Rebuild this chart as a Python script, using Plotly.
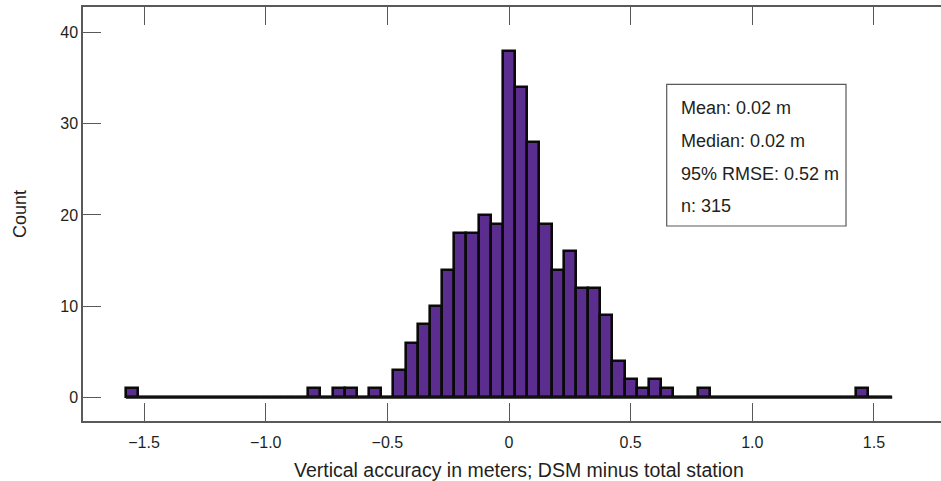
import plotly.graph_objects as go

# Histogram of vertical differences (DSM minus total station), 0.05 m bins
bin_start = -1.575
bin_width = 0.05
counts = [
    1, 0, 0, 0, 0, 0, 0, 0, 0, 0, 0, 0, 0, 0, 0,   # -1.55 .. -0.85
    1, 0, 1, 1, 0, 1, 0,                            # -0.80 .. -0.50
    3, 6, 8, 10, 14, 18, 18, 20, 19,                # -0.45 .. -0.05
    38, 34, 28, 19, 14, 16, 12, 12, 9,              #  0.00 ..  0.40
    4, 2, 1, 2, 1, 0, 0, 1,                         #  0.45 ..  0.80
    0, 0, 0, 0, 0, 0, 0, 0, 0, 0, 0, 0,             #  0.85 ..  1.40
    1, 0, 0,                                        #  1.45 ..  1.55
]
bin_centers = [round(bin_start + bin_width * (i + 0.5), 3) for i in range(len(counts))]
bin_end = bin_start + bin_width * len(counts)

x_tickvals = [-1.5, -1.0, -0.5, 0, 0.5, 1.0, 1.5]
x_ticktext = ["\u22121.5", "\u22121.0", "\u22120.5", "0", "0.5", "1.0", "1.5"]
y_tickvals = [0, 10, 20, 30, 40]

stats_lines = [
    "Mean: 0.02 m",
    "Median: 0.02 m",
    "95% RMSE: 0.52 m",
    f"n: {sum(counts)}",
]

FONT = "Liberation Sans, Arial, sans-serif"
TEXT = "#231f20"
FRAME = "#58595b"
FILL = "#5b2d8e"

fig = go.Figure()

# baseline drawn under empty bins
fig.add_trace(go.Scatter(
    x=[bin_start, bin_end], y=[0, 0], mode="lines",
    line=dict(color="#111111", width=3), hoverinfo="skip", showlegend=False,
))

fig.add_trace(go.Bar(
    x=bin_centers, y=counts, width=bin_width,
    marker=dict(color=FILL, line=dict(color="#0a0a0a", width=2.6)),
    showlegend=False,
))

fig.update_layout(
    width=941, height=481,
    margin=dict(l=83, r=0, t=7, b=60),
    paper_bgcolor="white", plot_bgcolor="white",
    font=dict(family=FONT, color=TEXT),
    bargap=0,
    xaxis=dict(
        range=[-1.751, 1.7756],
        tickmode="array", tickvals=x_tickvals, ticktext=x_ticktext,
        ticks="inside", ticklen=18, tickwidth=1.2, tickcolor=FRAME,
        showline=True, linecolor=FRAME, linewidth=1.5, mirror="ticks",
        showgrid=False, zeroline=False,
        tickfont=dict(size=16, family=FONT, color=TEXT),
        ticklabelstandoff=6,
    ),
    yaxis=dict(
        range=[-2.6, 42.8],
        tickmode="array", tickvals=y_tickvals,
        ticks="inside", ticklen=18, tickwidth=1.2, tickcolor=FRAME,
        showline=True, linecolor=FRAME, linewidth=1.5, mirror=False,
        showgrid=False, zeroline=False,
        tickfont=dict(size=16, family=FONT, color=TEXT),
    ),
    yaxis2=dict(
        overlaying="y", side="right", range=[-2.6, 42.8],
        tickmode="array", tickvals=y_tickvals,
        ticks="inside", ticklen=6, tickwidth=1.2, tickcolor=FRAME,
        showticklabels=False, showline=False, showgrid=False, zeroline=False,
    ),
)

# statistics box
fig.add_shape(
    type="rect", xref="paper", yref="paper",
    x0=0.6803, x1=0.8893, y0=0.471, y1=0.8133,
    line=dict(color=FRAME, width=1.2), fillcolor="white", layer="above",
)
for txt, yy in zip(stats_lines, [0.7561, 0.6756, 0.5974, 0.5186]):
    fig.add_annotation(
        text=txt, xref="paper", yref="paper", x=0.6946, y=yy,
        xanchor="left", yanchor="middle", showarrow=False,
        font=dict(size=18, family=FONT, color=TEXT),
    )

# axis titles
fig.add_annotation(
    text="Vertical accuracy in meters; DSM minus total station",
    xref="paper", yref="paper", x=0.5076, y=-0.1195,
    xanchor="center", yanchor="middle", showarrow=False,
    font=dict(size=19.5, family=FONT, color=TEXT),
)
fig.add_annotation(
    text="Count", textangle=-90,
    xref="paper", yref="paper", x=-0.0734, y=0.5,
    xanchor="center", yanchor="middle", showarrow=False,
    font=dict(size=18, family=FONT, color=TEXT),
)

fig.write_html("out.html")
